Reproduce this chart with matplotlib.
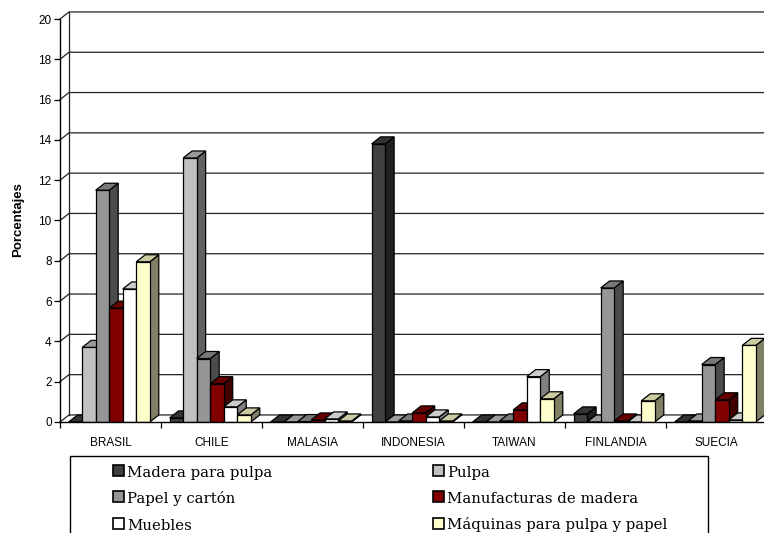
import matplotlib.pyplot as plt
from matplotlib.patches import Polygon, Rectangle
from matplotlib.colors import to_rgb

paises = ["BRASIL", "CHILE", "MALASIA", "INDONESIA", "TAIWAN", "FINLANDIA", "SUECIA"]
series = ["Madera para pulpa", "Pulpa", "Papel y cartón",
          "Manufacturas de madera", "Muebles", "Máquinas para pulpa y papel"]

madera = [0.0, 0.2, 0.0, 13.8, 0.0, 0.4, 0.0]
pulpa = [3.7, 13.1, 0.0, 0.0, 0.0, 0.0, 0.05]
papel = [11.5, 3.15, 0.02, 0.05, 0.05, 6.65, 2.85]
manufacturas = [5.65, 1.9, 0.1, 0.45, 0.6, 0.05, 1.1]
muebles = [6.6, 0.75, 0.15, 0.25, 2.25, 0.0, 0.1]
maquinas = [7.95, 0.35, 0.05, 0.05, 1.15, 1.05, 3.8]

valores = [madera, pulpa, papel, manufacturas, muebles, maquinas]
colores = ["#404040", "#c0c0c0", "#969696", "#800000", "#ffffff", "#ffffcc"]

W, H = 764, 533
fig = plt.figure(figsize=(W / 100, H / 100), dpi=100)
ax = fig.add_axes([60 / W, 111 / H, 707 / W, 403 / H])
ax.set_xlim(0, 7)
ax.set_ylim(0, 20)

# profundidad del efecto 3D (en unidades de datos)
dx, dy = 0.089, 0.35
ancho = 0.134
inicio = 0.085


def tono(c, f):
    r, g, b = to_rgb(c)
    return (r * f, g * f, b * f)


# pared del fondo, pared lateral y suelo
for v in range(0, 21, 2):
    ax.plot([0, dx, 7 + dx], [v, v + dy, v + dy], color="#222222", lw=0.9,
            clip_on=False, zorder=1)
ax.plot([dx, dx], [dy, 20 + dy], color="#222222", lw=0.9, clip_on=False, zorder=1)

for i in range(len(paises)):
    for j, (vals, c) in enumerate(zip(valores, colores)):
        v = vals[i]
        x = i + inicio + j * ancho
        z = 3 + j * 0.1
        ax.bar(x, v, width=ancho, align="edge", color=c, edgecolor="black",
               lw=0.9, zorder=z + 0.02)
        lado = [(x + ancho, 0), (x + ancho + dx, dy), (x + ancho + dx, v + dy), (x + ancho, v)]
        tapa = [(x, v), (x + dx, v + dy), (x + ancho + dx, v + dy), (x + ancho, v)]
        ax.add_patch(Polygon(lado, closed=True, facecolor=tono(c, 0.5),
                             edgecolor="black", lw=0.9, zorder=z))
        ax.add_patch(Polygon(tapa, closed=True, facecolor=tono(c, 0.8),
                             edgecolor="black", lw=0.9, zorder=z + 0.01))

for s in ["top", "right"]:
    ax.spines[s].set_visible(False)
for s in ["left", "bottom"]:
    ax.spines[s].set_linewidth(1.0)
    ax.spines[s].set_zorder(10)

ax.set_yticks(range(0, 21, 2))
ax.tick_params(axis="y", direction="out", length=4, width=0.9, pad=2, labelsize=8.5)
ax.set_xticks(range(0, 8))
ax.set_xticklabels([])
ax.tick_params(axis="x", which="major", direction="out", length=4, width=0.9)
ax.set_xticks([i + 0.5 for i in range(len(paises))], minor=True)
ax.set_xticklabels(paises, minor=True)
ax.tick_params(axis="x", which="minor", length=0, pad=11, labelsize=8.5)
for t in ax.get_xticklabels(minor=True) + ax.get_yticklabels():
    t.set_fontfamily("Liberation Sans")

fig.text(18 / W, 1 - 220 / H, "Porcentajes", rotation=90, ha="center", va="center",
         fontsize=9.5, fontweight="bold", family="Liberation Sans")

# leyenda
fig.add_artist(Rectangle((70 / W, -0.1), (708 - 70) / W, (H - 456) / H + 0.1,
                         transform=fig.transFigure, fill=False, lw=1.0,
                         edgecolor="black"))
filas = [470.5, 496.5, 523]
columnas = [113, 433]
lado_px = 11
for k, (nombre, c) in enumerate(zip(series, colores)):
    fila, col = divmod(k, 2)
    cx, cy = columnas[col], filas[fila]
    fig.add_artist(Rectangle((cx / W, 1 - (cy + lado_px / 2) / H), lado_px / W, lado_px / H,
                             transform=fig.transFigure, facecolor=c,
                             edgecolor="black", lw=1.2))
    fig.text((cx + lado_px + 3) / W, 1 - (cy + lado_px / 2 + 1) / H, nombre,
             ha="left", va="baseline", fontsize=10.7, family="DejaVu Serif")

fig.savefig("out.png", dpi=100)
